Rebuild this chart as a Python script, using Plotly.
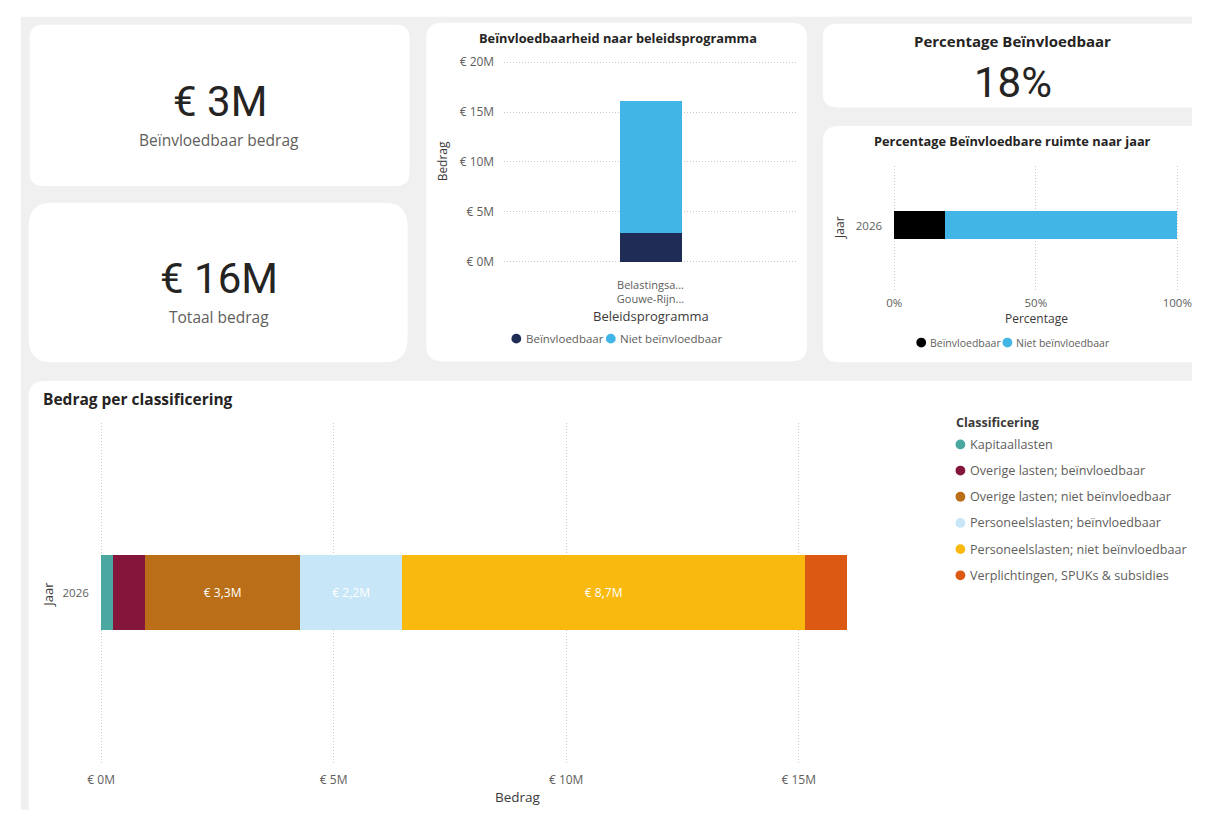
import plotly.graph_objects as go

# ---- data (amounts in millions of euros) ----
classificering = [
    "Kapitaallasten",
    "Overige lasten; beïnvloedbaar",
    "Overige lasten; niet beïnvloedbaar",
    "Personeelslasten; beïnvloedbaar",
    "Personeelslasten; niet beïnvloedbaar",
    "Verplichtingen, SPUKs & subsidies",
]
bedrag_2026 = [0.25, 0.70, 3.34, 2.18, 8.66, 0.92]
is_beinvloedbaar = [False, True, False, True, False, False]
kleur_classificering = ["#4BA8A1", "#84163C", "#B96E17", "#C7E6F7", "#F9B90F", "#DC5913"]

jaren = ["2026"]
beleidsprogramma = ["Belastingsa...<br>Gouwe-Rijn..."]

bedrag_ticks_programma = [0, 5, 10, 15, 20]
bedrag_ticks_classificering = [0, 5, 10, 15]
percentage_ticks = [0, 50, 100]

KLEUR_BEINV = "#1F2C56"
KLEUR_NIET = "#41B5E5"
KLEUR_BEINV_PCT = "#000000"

# ---- derived totals ----
totaal = sum(bedrag_2026)
beinvloedbaar = sum(v for v, f in zip(bedrag_2026, is_beinvloedbaar) if f)
niet_beinvloedbaar = totaal - beinvloedbaar
pct_beinvloedbaar = beinvloedbaar / totaal * 100

W, H = 1205, 816
FONT = "Open Sans"
KPI_FONT = "Roboto"
DARK = "#252423"
AXIS_TITLE = "#3B3A39"
GREY = "#605E5C"
GRID = "#C8C8C8"
GRID_DASH = "1px,2px"


def px(x):
    return x / W


def py(y):
    return 1 - y / H


def card(x0, y0, x1, y1, r):
    pts = [
        ("M", (x0 + r, y0)), ("L", (x1 - r, y0)), ("Q", (x1, y0), (x1, y0 + r)),
        ("L", (x1, y1 - r)), ("Q", (x1, y1), (x1 - r, y1)),
        ("L", (x0 + r, y1)), ("Q", (x0, y1), (x0, y1 - r)),
        ("L", (x0, y0 + r)), ("Q", (x0, y0), (x0 + r, y0)),
    ]
    path = ""
    for cmd, *coords in pts:
        path += cmd + " ".join(f"{px(cx):.5f},{py(cy):.5f}" for cx, cy in coords) + " "
    return dict(type="path", path=path + "Z", xref="paper", yref="paper",
                fillcolor="white", line=dict(width=0), layer="below")


def dot(x, y, color, d=10):
    return dict(type="circle", xref="paper", yref="paper",
                x0=px(x - d / 2), x1=px(x + d / 2), y0=py(y + d / 2), y1=py(y - d / 2),
                fillcolor=color, line=dict(width=0), layer="above")


def text(x, y, s, size, color=DARK, bold=False, family=FONT, xanchor="center", angle=0):
    return dict(x=px(x), y=py(y), xref="paper", yref="paper", text=s, showarrow=False,
                xanchor=xanchor, yanchor="middle", textangle=angle,
                font=dict(family=family, size=size, color=color,
                          weight="bold" if bold else "normal"))


def euro_m(v):
    return f"€ {v:.1f}M".replace(".", ",")


fig = go.Figure()

# Beïnvloedbaarheid per beleidsprogramma (stacked column)
fig.add_trace(go.Bar(x=beleidsprogramma, y=[beinvloedbaar], name="Beïnvloedbaar",
                     marker=dict(color=KLEUR_BEINV, line=dict(width=0)), width=0.21,
                     xaxis="x", yaxis="y", showlegend=False))
fig.add_trace(go.Bar(x=beleidsprogramma, y=[niet_beinvloedbaar], name="Niet beïnvloedbaar",
                     marker=dict(color=KLEUR_NIET, line=dict(width=0)), width=0.21,
                     xaxis="x", yaxis="y", showlegend=False))

# Percentage beïnvloedbare ruimte per jaar (100% stacked bar)
fig.add_trace(go.Bar(y=jaren, x=[pct_beinvloedbaar], orientation="h", name="Beïnvloedbaar",
                     marker=dict(color=KLEUR_BEINV_PCT, line=dict(width=0)), width=0.22,
                     xaxis="x2", yaxis="y2", showlegend=False))
fig.add_trace(go.Bar(y=jaren, x=[100 - pct_beinvloedbaar], orientation="h",
                     name="Niet beïnvloedbaar",
                     marker=dict(color=KLEUR_NIET, line=dict(width=0)), width=0.22,
                     xaxis="x2", yaxis="y2", showlegend=False))

# Bedrag per classificering (stacked bar)
for naam, waarde, kleur in zip(classificering, bedrag_2026, kleur_classificering):
    fig.add_trace(go.Bar(
        y=jaren, x=[waarde], orientation="h", name=naam,
        marker=dict(color=kleur, line=dict(width=0)), width=0.22,
        text=[euro_m(waarde) if waarde >= 1.5 else ""],
        textposition="inside", insidetextanchor="middle", textangle=0,
        textfont=dict(family=FONT, size=12, color="white"),
        xaxis="x3", yaxis="y3", showlegend=False,
    ))

tick_font = dict(family=FONT, size=12, color=GREY)
no_tick = dict(ticks="outside", tickcolor="rgba(0,0,0,0)", showline=False, zeroline=False,
               fixedrange=True)
grid = dict(showgrid=True, gridcolor=GRID, griddash=GRID_DASH, gridwidth=1)

# axis ranges are padded by ~2px so the end gridlines stay visible
fig.update_layout(
    width=W, height=H, margin=dict(l=0, r=0, t=0, b=0),
    paper_bgcolor="white", plot_bgcolor="rgba(0,0,0,0)",
    barmode="stack", bargap=0,
    xaxis=dict(domain=[px(502), px(802)], anchor="y", type="category",
               showgrid=False, tickfont=dict(family=FONT, size=11, color=GREY),
               ticklen=11, **no_tick),
    yaxis=dict(domain=[py(261), py(54)], anchor="x", range=[-0.2, 20.2],
               tickvals=bedrag_ticks_programma,
               ticktext=[f"€ {v}M" for v in bedrag_ticks_programma],
               tickfont=tick_font, ticklen=6, **grid, **no_tick),
    xaxis2=dict(domain=[px(899), px(1192)], anchor="y2", range=[-0.69, 100.69],
                tickvals=percentage_ticks, ticktext=[f"{v}%" for v in percentage_ticks],
                tickfont=dict(family=FONT, size=11.5, color=GREY), ticklen=0,
                **grid, **no_tick),
    yaxis2=dict(domain=[py(290), py(162)], anchor="x2", type="category",
                range=[-0.531, 0.469], showgrid=False,
                tickfont=dict(family=FONT, size=11.5, color=GREY), ticklen=7, **no_tick),
    xaxis3=dict(domain=[px(89), px(943)], anchor="y3", range=[-0.042, 17.94],
                tickvals=bedrag_ticks_classificering,
                ticktext=[f"€ {v}M" for v in bedrag_ticks_classificering],
                tickfont=tick_font, ticklen=6, **grid, **no_tick),
    yaxis3=dict(domain=[py(768), py(423)], anchor="x3", type="category",
                range=[-0.5, 0.5], showgrid=False,
                tickfont=dict(family=FONT, size=11.5, color=GREY), ticklen=7, **no_tick),
)

# page background and cards
shapes = [dict(type="rect", xref="paper", yref="paper", x0=px(9), x1=1, y0=0, y1=py(10),
               fillcolor="#F0F0F0", line=dict(width=0), layer="below")]
shapes += [
    card(18, 18, 406, 182, 14),
    card(17, 199, 404, 361, 24),
    card(423, 16, 812, 360, 16),
    card(828, 17, 1235, 102, 14),
    card(828, 121, 1235, 361, 16),
    card(17, 380, 1235, 840, 16),
]

annotations = [
    # KPI cards
    text(212, 96, f"€ {round(beinvloedbaar)}M", 42, family=KPI_FONT),
    text(211, 135, "Beïnvloedbaar bedrag", 15.5, GREY),
    text(211, 276, f"€ {round(totaal)}M", 42, family=KPI_FONT),
    text(211, 315, "Totaal bedrag", 15.5, GREY),
    text(1022, 35, "Percentage Beïnvloedbaar", 15, bold=True),
    text(1022, 77, f"{round(pct_beinvloedbaar)}%", 42, family=KPI_FONT),
    # column chart
    text(619, 32, "Beïnvloedbaarheid naar beleidsprogramma", 12.8, bold=True),
    text(440, 157, "Bedrag", 12, AXIS_TITLE, angle=-90),
    text(653, 314, "Beleidsprogramma", 13, AXIS_TITLE),
    text(522.5, 337, "Beïnvloedbaar", 11.5, GREY, xanchor="left"),
    text(619, 337, "Niet beïnvloedbaar", 11.5, GREY, xanchor="left"),
    # percentage chart
    text(1022, 136, "Percentage Beïnvloedbare ruimte naar jaar", 12.8, bold=True),
    text(845, 224, "Jaar", 12, AXIS_TITLE, angle=-90),
    text(1046, 317, "Percentage", 12, AXIS_TITLE),
    text(935.5, 341, "Beïnvloedbaar", 10.5, GREY, xanchor="left"),
    text(1023.5, 341, "Niet beïnvloedbaar", 10.5, GREY, xanchor="left"),
    # classification chart
    text(30, 398, "Bedrag per classificering", 15.5, bold=True, xanchor="left"),
    text(37, 597, "Jaar", 13, AXIS_TITLE, angle=-90),
    text(517, 803, "Bedrag", 13.5, AXIS_TITLE),
    text(962, 422, "Classificering", 12.5, "#3B3A39", bold=True, xanchor="left"),
]

shapes += [dot(515, 337, KLEUR_BEINV), dot(611.5, 337, KLEUR_NIET),
           dot(928.5, 341, KLEUR_BEINV_PCT), dot(1016.5, 341, KLEUR_NIET)]

for i, (naam, kleur) in enumerate(zip(classificering, kleur_classificering)):
    y = 444.5 + i * 26.6
    shapes.append(dot(968.5, y, kleur))
    annotations.append(text(976.5, y, naam, 12.6, GREY, xanchor="left"))

fig.update_layout(shapes=shapes, annotations=annotations)

fig.write_html("out.html")
